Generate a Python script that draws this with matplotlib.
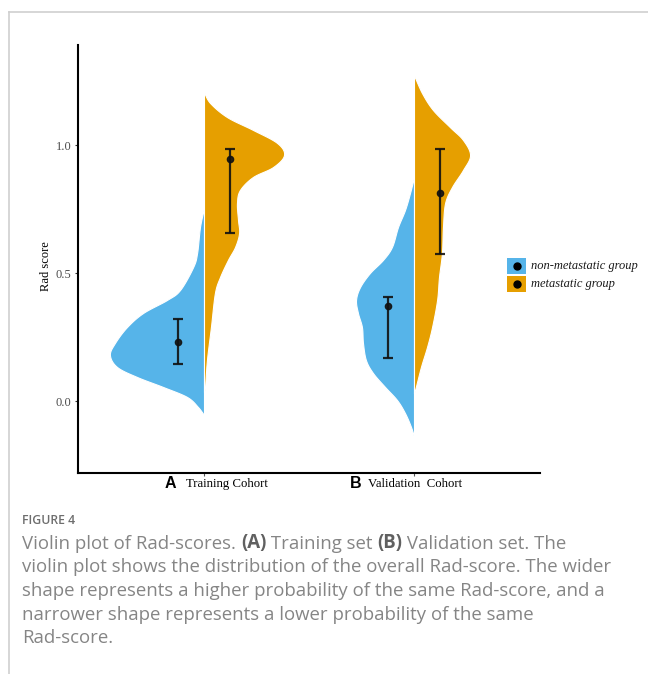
import numpy as np
import matplotlib
matplotlib.use("Agg")
import matplotlib.pyplot as plt
from matplotlib.lines import Line2D
from matplotlib.patches import Rectangle

# ---- data -------------------------------------------------------------
cohorts = ["Training Cohort", "Validation  Cohort"]
cohort_tags = ["A", "B"]
groups = ["non-metastatic group", "metastatic group"]
group_colors = ["#56B4E9", "#E69F00"]

# Half-violin density outlines: Rad-score levels and half widths
train_non_y = [0.754, 0.680, 0.578, 0.523, 0.434, 0.395, 0.344, 0.289, 0.227,
               0.180, 0.133, 0.094, 0.055, 0.016, -0.023, -0.055]
train_non_w = [0.0, 0.019, 0.033, 0.052, 0.114, 0.176, 0.290, 0.367, 0.424,
               0.448, 0.414, 0.319, 0.195, 0.081, 0.029, 0.0]

train_met_y = [1.207, 1.164, 1.109, 1.059, 1.008, 0.961, 0.914, 0.875, 0.824,
               0.773, 0.707, 0.656, 0.602, 0.551, 0.484, 0.422, 0.289, 0.160,
               0.055, 0.035]
train_met_w = [0.0, 0.029, 0.110, 0.233, 0.348, 0.381, 0.329, 0.233, 0.171,
               0.157, 0.162, 0.167, 0.148, 0.114, 0.076, 0.052, 0.033, 0.014,
               0.005, 0.0]

valid_non_y = [0.875, 0.8125, 0.746, 0.680, 0.602, 0.551, 0.500, 0.445, 0.395,
               0.344, 0.289, 0.227, 0.160, 0.109, 0.055, 0.004, -0.047,
               -0.102, -0.141]
valid_non_w = [0.0, 0.019, 0.043, 0.076, 0.105, 0.148, 0.210, 0.257, 0.276,
               0.267, 0.248, 0.243, 0.229, 0.195, 0.138, 0.081, 0.043, 0.014,
               0.0]

valid_met_y = [1.273, 1.203, 1.137, 1.070, 1.020, 0.961, 0.902, 0.836, 0.773,
               0.680, 0.578, 0.484, 0.395, 0.289, 0.211, 0.133, 0.043, 0.031]
valid_met_w = [0.0, 0.038, 0.090, 0.171, 0.233, 0.267, 0.233, 0.181, 0.148,
               0.138, 0.133, 0.119, 0.110, 0.086, 0.062, 0.033, 0.005, 0.0]

# Point estimates with interval limits, per cohort: [non-metastatic, metastatic]
center_vals = [[0.23, 0.945], [0.371, 0.812]]
lower_vals = [[0.145, 0.656], [0.168, 0.574]]
upper_vals = [[0.32, 0.984], [0.406, 0.984]]

profiles = [
    [(train_non_y, train_non_w), (train_met_y, train_met_w)],
    [(valid_non_y, valid_non_w), (valid_met_y, valid_met_w)],
]

caption_head = "FIGURE 4"
caption_lines = [
    "violin plot shows the distribution of the overall Rad-score. The wider",
    "shape represents a higher probability of the same Rad-score, and a",
    "narrower shape represents a lower probability of the same",
    "Rad-score.",
]
caption_first = [("Violin plot of Rad-scores. ", "normal"), ("(A)", "bold"),
                 (" Training set ", "normal"), ("(B)", "bold"),
                 (" Validation set. The", "normal")]


def catmull_rom(y, w, n=24):
    """Smooth curve through the outline points."""
    p = np.column_stack([w, y]).astype(float)
    p = np.vstack([p[0], p, p[-1]])
    out = []
    t = np.linspace(0, 1, n, endpoint=False)[:, None]
    for i in range(1, len(p) - 2):
        p0, p1, p2, p3 = p[i - 1], p[i], p[i + 1], p[i + 2]
        seg = 0.5 * ((2 * p1) + (-p0 + p2) * t
                     + (2 * p0 - 5 * p1 + 4 * p2 - p3) * t ** 2
                     + (-p0 + 3 * p1 - 3 * p2 + p3) * t ** 3)
        out.append(seg)
    out.append(p[-2][None, :])
    s = np.vstack(out)
    return np.clip(s[:, 0], 0, None), s[:, 1]


W, H = 648, 674
fig = plt.figure(figsize=(W / 100, H / 100), dpi=100)


def fx(px):
    return px / W


def fy(py):
    return 1 - py / H


ax = fig.add_axes([fx(78), fy(473), fx(540) - fx(78), fy(45) - fy(473)])
ax.set_xlim(0.4, 2.6)
ax.set_ylim(-0.281, 1.3906)

positions = [1, 2]
offset = 0.125
for ci, pos in enumerate(positions):
    for gi in range(2):
        yy, ww = profiles[ci][gi]
        w_s, y_s = catmull_rom(yy, ww)
        side = -1 if gi == 0 else 1
        ax.fill_betweenx(y_s, pos, pos + side * w_s, facecolor=group_colors[gi],
                         edgecolor="white", linewidth=0.8, zorder=2)
        xe = pos + side * offset
        c = center_vals[ci][gi]
        ax.errorbar([xe], [c],
                    yerr=[[c - lower_vals[ci][gi]], [upper_vals[ci][gi] - c]],
                    fmt="o", color="#111111", ms=4.5, elinewidth=1.6,
                    capsize=3.8, capthick=1.6, alpha=0.9, zorder=3)

for s in ["top", "right"]:
    ax.spines[s].set_visible(False)
for s in ["left", "bottom"]:
    ax.spines[s].set_linewidth(1.5)
    ax.spines[s].set_color("black")

ax.set_yticks([0.0, 0.5, 1.0])
ax.set_yticklabels(["0.0", "0.5", "1.0"], family="Liberation Serif",
                   fontsize=9, color="#4D4D4D")
ax.tick_params(axis="y", length=2.5, width=0.8, color="#333333", pad=2)
ax.set_xticks(positions)
ax.set_xticklabels(["", ""])
ax.tick_params(axis="x", length=2.5, width=0.8, color="#555555")

fig.text(fx(46), fy(266), "Rad score", family="Liberation Serif", fontsize=9,
         color="black", rotation=90, va="center", ha="center")

# Category labels under the axis
tag_x = [165, 350]
name_x = [186, 368]
for i in range(2):
    fig.text(fx(tag_x[i]), fy(484), cohort_tags[i], family="Liberation Sans",
             weight="bold", fontsize=11.5, va="center", ha="left")
    fig.text(fx(name_x[i]), fy(484), cohorts[i], family="Liberation Serif",
             fontsize=9.2, va="center", ha="left")

# Legend
key_y = [258, 276]
for gi in range(2):
    fig.patches.append(Rectangle((fx(507), fy(key_y[gi] + 16)), fx(19), 16 / H,
                                 transform=fig.transFigure,
                                 facecolor=group_colors[gi], edgecolor="none"))
    fig.add_artist(Line2D([fx(517)], [fy(key_y[gi] + 8)], marker="o", ms=5,
                          color="black", transform=fig.transFigure))
    fig.text(fx(531), fy(key_y[gi] + 8), groups[gi], family="Liberation Serif",
             style="italic", fontsize=9, va="center", ha="left",
             color="#1a1a1a")

# Frame lines around the figure block
fig.add_artist(Line2D([fx(8.5), 1], [fy(12), fy(12)], color="#cfcfcf",
                      lw=1.2, transform=fig.transFigure))
fig.add_artist(Line2D([fx(8.5), fx(8.5)], [fy(12), 0], color="#cfcfcf",
                      lw=1.2, transform=fig.transFigure))

# Caption
cap_x = 22
cap_font = "Open Sans"
cap_color = "#858585"
cap_size = 13.4
fig.text(fx(cap_x), fy(520), caption_head, family=cap_font, weight="semibold",
         fontsize=8.8, color="#6e6e6e", va="center", ha="left")
prev = fig.text(fx(cap_x), fy(544), caption_first[0][0], family=cap_font,
                fontsize=cap_size, color=cap_color, va="center", ha="left")
for txt, wt in caption_first[1:]:
    prev = ax.annotate(txt, xy=(1, 0), xycoords=prev, va="bottom", ha="left",
                       family=cap_font, fontsize=cap_size, weight=wt,
                       color="#606060" if wt == "bold" else cap_color,
                       annotation_clip=False)
for k, line in enumerate(caption_lines):
    fig.text(fx(cap_x), fy(567.5 + 23.5 * k), line, family=cap_font,
             fontsize=cap_size, color=cap_color, va="center", ha="left")

fig.savefig("out.png", dpi=100)
